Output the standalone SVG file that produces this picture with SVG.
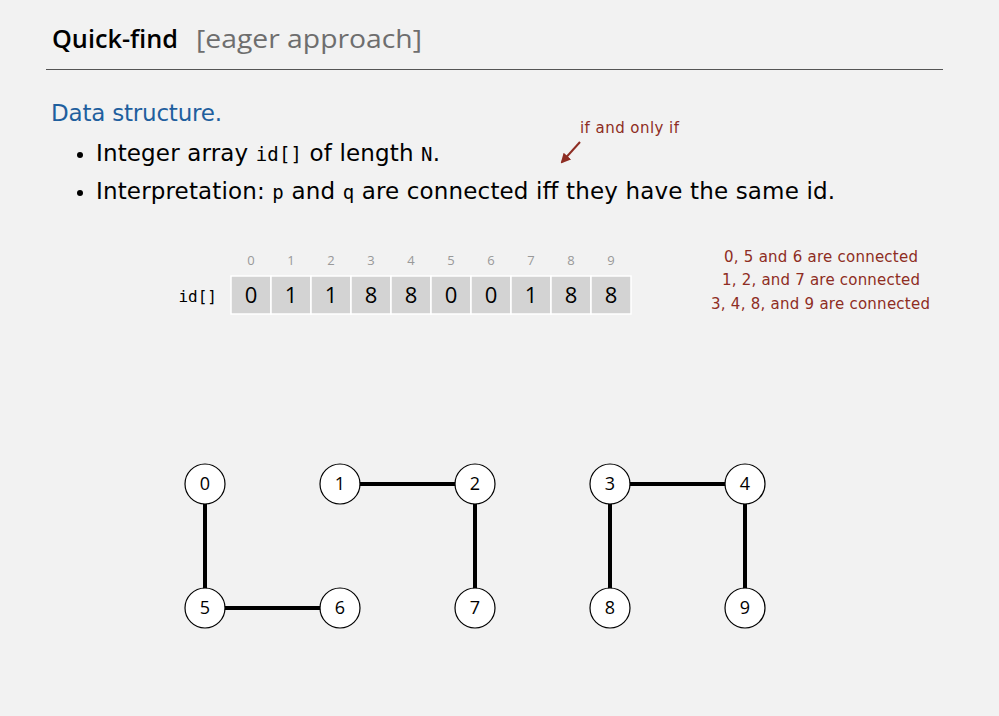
<svg xmlns="http://www.w3.org/2000/svg" width="999" height="716" viewBox="0 0 999 716">
<style>
.sans{font-family:"DejaVu Sans","Open Sans",sans-serif}
.mono{font-family:"DejaVu Sans Mono","Liberation Mono",monospace}
.red{fill:#8e2d23}
.cell{fill:#d3d3d3;stroke:#ffffff;stroke-width:1.5}
.idx{font-family:"Open Sans","DejaVu Sans",sans-serif;font-size:13px;fill:#999;text-anchor:middle}
.val{font-family:"Open Sans","DejaVu Sans",sans-serif;font-size:22px;fill:#000;text-anchor:middle}
.node circle{fill:#fff;stroke:#000;stroke-width:1.2}
.node text{font-family:"Open Sans","DejaVu Sans",sans-serif;font-size:18px;text-anchor:middle;fill:#000}
.edge{stroke:#000;stroke-width:4}
</style>
<defs>
<marker id="ah" viewBox="0 0 10 10" refX="8" refY="5" markerWidth="5" markerHeight="5" orient="auto"><path d="M0,0 L10,5 L0,10 z" fill="#8e2d23"/></marker>
</defs>
<rect width="999" height="716" fill="#f2f2f2"/>
<text x="52" y="48" font-family="Open Sans, sans-serif" font-weight="600" font-size="26" fill="#000" textLength="126" lengthAdjust="spacingAndGlyphs">Quick-find</text>
<text x="196" y="48" font-family="Open Sans, sans-serif" font-weight="500" font-size="26" fill="#6e6e6e" textLength="226" lengthAdjust="spacingAndGlyphs">[eager approach]</text>
<line x1="46" y1="69.5" x2="943" y2="69.5" stroke="#555" stroke-width="1.2"/>
<text x="51" y="121" class="sans" font-size="23" fill="#1f5f9e" textLength="171">Data structure.</text>
<circle cx="80" cy="155" r="3" fill="#000"/>
<text x="96" y="161" class="sans" font-size="23" fill="#000" textLength="344">Integer array <tspan class="mono" font-size="19">id[]</tspan> of length <tspan class="mono" font-size="19">N</tspan>.</text>
<circle cx="80" cy="193" r="3" fill="#000"/>
<text x="96" y="199" class="sans" font-size="23" fill="#000" textLength="739">Interpretation:  <tspan class="mono" font-size="19">p</tspan> and <tspan class="mono" font-size="19">q</tspan> are connected iff they have the same id.</text>
<text x="580" y="133" class="sans red" font-size="15" textLength="99">if and only if</text>
<line x1="580" y1="142" x2="562" y2="162" stroke="#8e2d23" stroke-width="2" marker-end="url(#ah)"/>
<g id="array">
<text x="217" y="302" class="mono" font-size="16" text-anchor="end" fill="#000">id[]</text>
<rect class="cell" x="231" y="276" width="40" height="38"/>
<rect class="cell" x="271" y="276" width="40" height="38"/>
<rect class="cell" x="311" y="276" width="40" height="38"/>
<rect class="cell" x="351" y="276" width="40" height="38"/>
<rect class="cell" x="391" y="276" width="40" height="38"/>
<rect class="cell" x="431" y="276" width="40" height="38"/>
<rect class="cell" x="471" y="276" width="40" height="38"/>
<rect class="cell" x="511" y="276" width="40" height="38"/>
<rect class="cell" x="551" y="276" width="40" height="38"/>
<rect class="cell" x="591" y="276" width="40" height="38"/>
<text class="idx" x="251" y="265">0</text><text class="idx" x="291" y="265">1</text><text class="idx" x="331" y="265">2</text><text class="idx" x="371" y="265">3</text><text class="idx" x="411" y="265">4</text><text class="idx" x="451" y="265">5</text><text class="idx" x="491" y="265">6</text><text class="idx" x="531" y="265">7</text><text class="idx" x="571" y="265">8</text><text class="idx" x="611" y="265">9</text>
<text class="val" x="251" y="303">0</text><text class="val" x="291" y="303">1</text><text class="val" x="331" y="303">1</text><text class="val" x="371" y="303">8</text><text class="val" x="411" y="303">8</text><text class="val" x="451" y="303">0</text><text class="val" x="491" y="303">0</text><text class="val" x="531" y="303">1</text><text class="val" x="571" y="303">8</text><text class="val" x="611" y="303">8</text>
</g>
<g class="sans red" font-size="15">
<text x="724" y="262" textLength="194">0, 5 and 6 are connected</text>
<text x="722" y="285" textLength="198">1, 2, and 7 are connected</text>
<text x="711" y="309" textLength="219">3, 4, 8, and 9 are connected</text>
</g>
<g id="connectors">
<line class="edge" x1="205" y1="484" x2="205" y2="608"/>
<line class="edge" x1="205" y1="608" x2="340" y2="608"/>
<line class="edge" x1="340" y1="484" x2="475" y2="484"/>
<line class="edge" x1="475" y1="484" x2="475" y2="608"/>
<line class="edge" x1="610" y1="484" x2="745" y2="484"/>
<line class="edge" x1="610" y1="484" x2="610" y2="608"/>
<line class="edge" x1="745" y1="484" x2="745" y2="608"/>
</g>
<g id="n0" class="node"><circle cx="205" cy="484" r="20"/><text x="205" y="490">0</text></g>
<g id="n1" class="node"><circle cx="340" cy="484" r="20"/><text x="340" y="490">1</text></g>
<g id="n2" class="node"><circle cx="475" cy="484" r="20"/><text x="475" y="490">2</text></g>
<g id="n3" class="node"><circle cx="610" cy="484" r="20"/><text x="610" y="490">3</text></g>
<g id="n4" class="node"><circle cx="745" cy="484" r="20"/><text x="745" y="490">4</text></g>
<g id="n5" class="node"><circle cx="205" cy="608" r="20"/><text x="205" y="614">5</text></g>
<g id="n6" class="node"><circle cx="340" cy="608" r="20"/><text x="340" y="614">6</text></g>
<g id="n7" class="node"><circle cx="475" cy="608" r="20"/><text x="475" y="614">7</text></g>
<g id="n8" class="node"><circle cx="610" cy="608" r="20"/><text x="610" y="614">8</text></g>
<g id="n9" class="node"><circle cx="745" cy="608" r="20"/><text x="745" y="614">9</text></g>
</svg>
